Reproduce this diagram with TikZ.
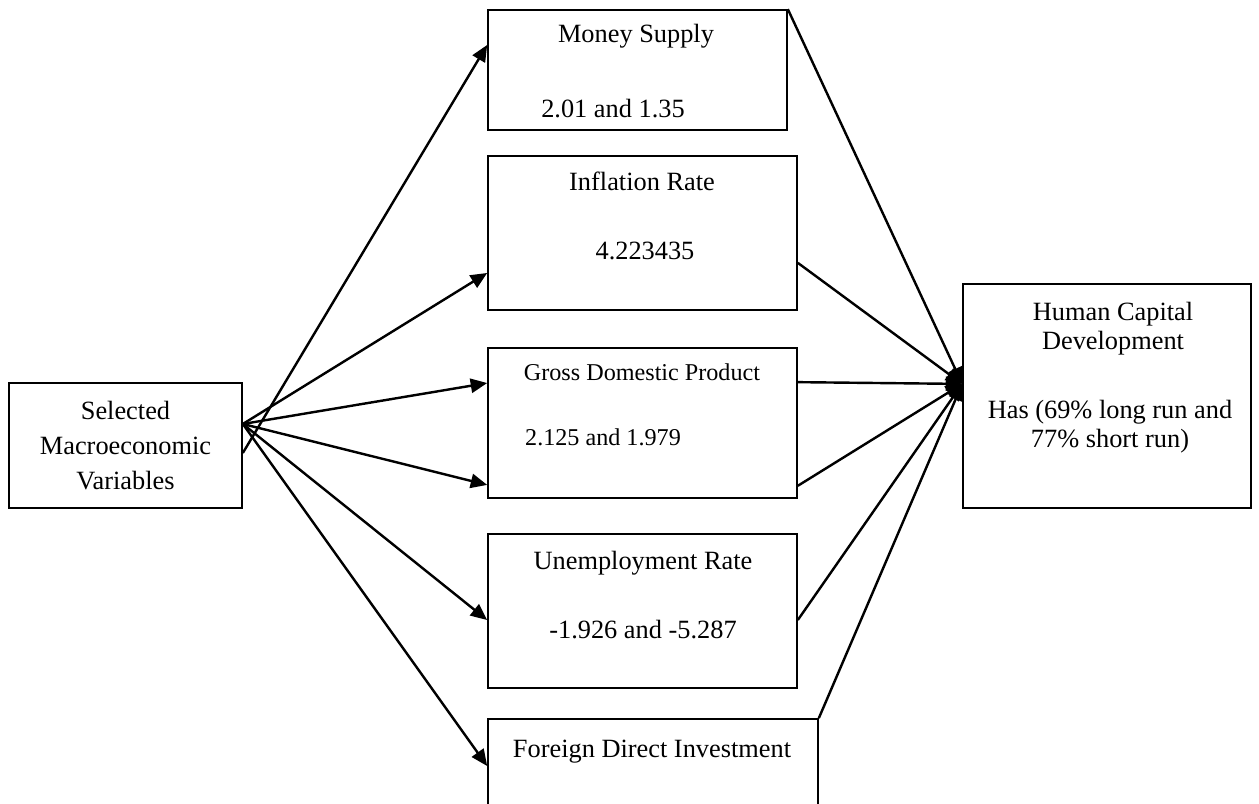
\documentclass[tikz,border=0pt]{standalone}
\usepackage{fontspec}
\setmainfont{Liberation Serif}
\usetikzlibrary{arrows.meta}

\begin{document}
\begin{tikzpicture}[x=0.016cm, y=-0.016cm,
  box/.style={rectangle, draw=black, line width=0.8pt, inner sep=0pt},
  lbl/.style={font=\fontsize{12}{16}\selectfont, inner sep=0pt, anchor=base, align=center},
  sml/.style={font=\fontsize{11}{14}\selectfont, inner sep=0pt, anchor=base},
  arr/.style={-{Triangle[length=7.5pt, width=6.5pt]}, line width=1.1pt}
]
\def\xL{125.5}
\def\xM{642.5}
\def\xR{1107}

\useasboundingbox (0,0) rectangle (1259,804);
\clip (0,0) rectangle (1259,804);

\node[box, minimum width=3.728cm, minimum height=2cm, align=center,
  font=\fontsize{12}{15.9}\selectfont] (sel) at (\xL,445.5)
  {Selected\\Macroeconomic\\Variables};

\node[box, minimum width=4.784cm, minimum height=1.92cm] (ms) at (637.5,70) {};
\node[box, minimum width=4.944cm, minimum height=2.464cm] (inf) at (\xM,233) {};
\node[box, minimum width=4.944cm, minimum height=2.4cm] (gdp) at (\xM,423) {};
\node[box, minimum width=4.944cm, minimum height=2.464cm] (une) at (\xM,611) {};
\node[box, minimum width=5.28cm, minimum height=2.08cm] (fdi) at (653,784) {};
\node[box, minimum width=4.608cm, minimum height=3.584cm] (hcd) at (\xR,396) {};

\node[lbl] (ms-t) at (636,43) {Money Supply};
\node[lbl] (ms-v) at (613,118) {2.01 and 1.35};
\node[lbl] (inf-t) at (642,191) {Inflation Rate};
\node[lbl] (inf-v) at (645,260) {4.223435};
\node[sml] (gdp-t) at (642,381) {Gross Domestic Product};
\node[sml] (gdp-v) at (603,446) {2.125 and 1.979};
\node[lbl] (une-t) at (643,570) {Unemployment Rate};
\node[lbl] (une-v) at (643,638) {-1.926 and -5.287};
\node[lbl] (fdi-t) at (652,757) {Foreign Direct Investment};
\node[lbl, font=\fontsize{12}{13.6}\selectfont] (hcd-t) at (1113,350)
  {Human Capital\\Development};
\node[lbl, font=\fontsize{12}{13.6}\selectfont] (hcd-v) at (1110,448)
  {Has (69\% long run and\\77\% short run)};

\draw[arr] ([yshift=-3.4pt]sel.east) -- ([yshift=11.4pt]ms.west);
\draw[arr] ([yshift=9.8pt]sel.east) -- ([yshift=-18.2pt]inf.west);
\draw[arr] ([yshift=9.8pt]sel.east) -- ([yshift=18.2pt]gdp.west);
\draw[arr] ([yshift=9.8pt]sel.east) -- ([yshift=-28.2pt]gdp.west);
\draw[arr] ([yshift=9.8pt]sel.east) -- ([yshift=-4.1pt]une.west);
\draw[arr] ([yshift=9.8pt]sel.east) -- ([yshift=-21.8pt]fdi.north west);

\coordinate (hin) at ([yshift=5.5pt]hcd.west);
\draw[arr] (ms.north east) -- (hin);
\draw[arr] ([yshift=-13.6pt]inf.east) -- (hin);
\draw[arr] ([yshift=18.6pt]gdp.east) -- (hin);
\draw[arr] ([yshift=-28.6pt]gdp.east) -- (hin);
\draw[arr] ([yshift=-4.1pt]une.east) -- (hin);
\draw[arr] (fdi.north east) -- (hin);
\end{tikzpicture}
\end{document}
